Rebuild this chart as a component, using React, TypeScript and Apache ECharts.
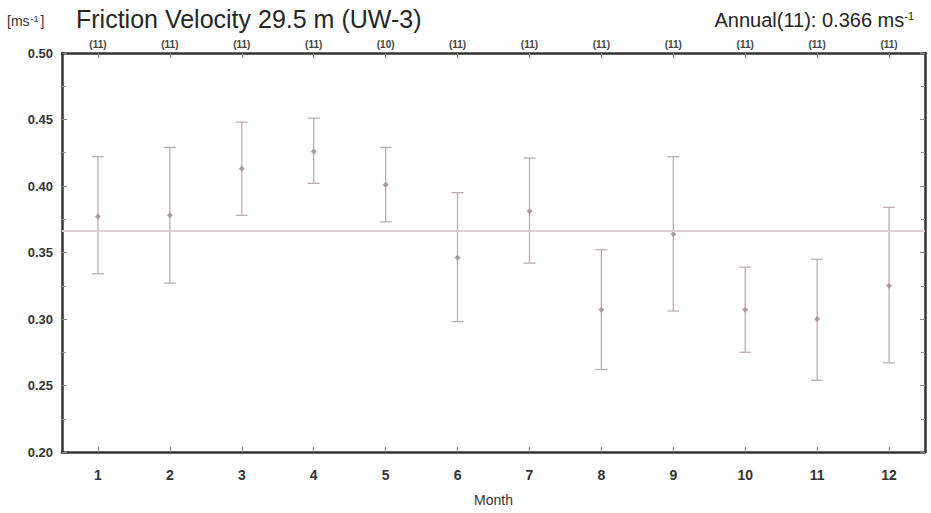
import React, { useEffect, useRef } from "react";
import * as echarts from "echarts";

const months = ["1", "2", "3", "4", "5", "6", "7", "8", "9", "10", "11", "12"];
const counts = ["(11)", "(11)", "(11)", "(11)", "(10)", "(11)", "(11)", "(11)", "(11)", "(11)", "(11)", "(11)"];
const means = [0.377, 0.378, 0.413, 0.426, 0.401, 0.346, 0.381, 0.307, 0.364, 0.307, 0.300, 0.325];
const upper = [0.422, 0.429, 0.448, 0.451, 0.429, 0.395, 0.421, 0.352, 0.422, 0.339, 0.345, 0.384];
const lower = [0.334, 0.327, 0.378, 0.402, 0.373, 0.298, 0.342, 0.262, 0.306, 0.275, 0.254, 0.267];
const annual = 0.366;

export default function App() {
  const ref = useRef<HTMLDivElement>(null);
  useEffect(() => {
    if (!ref.current) return;
    const chart = echarts.init(ref.current, null, { renderer: "svg" });
    const axisColor = "#333333";
    const barColor = "#b8a8a8";
    const font = "'Liberation Sans', Arial, sans-serif";
    chart.setOption({
      animation: false,
      backgroundColor: "#ffffff",
      textStyle: { fontFamily: font },
      grid: { left: 62, right: 6, top: 53, bottom: 61, containLabel: false, outerBoundsMode: "none" },
      graphic: [
        {
          type: "text",
          x: 7,
          y: 21,
          style: {
            text: "{n|[ms}{s|-1}{n|]}",
            textVerticalAlign: "middle",
            fontFamily: font,
            rich: {
              n: { fontSize: 14, fill: "#333", fontFamily: font },
              s: { fontSize: 9, fill: "#333", fontFamily: font, verticalAlign: "top", padding: [0, 2, 0, 1] },
            },
          },
        },
        {
          type: "text",
          x: 76,
          y: 19,
          style: {
            text: "Friction Velocity 29.5 m (UW-3)",
            fontSize: 25,
            fill: "#262626",
            fontFamily: font,
            textVerticalAlign: "middle",
          },
        },
        {
          type: "text",
          x: 914,
          y: 20,
          style: {
            text: "{n|Annual(11): 0.366 ms}{s|-1}",
            textAlign: "right",
            textVerticalAlign: "middle",
            fontFamily: font,
            rich: {
              n: { fontSize: 20, fill: "#262626", fontFamily: font },
              s: { fontSize: 11, fill: "#262626", fontFamily: font, verticalAlign: "top" },
            },
          },
        },
      ],
      xAxis: [
        {
          type: "category",
          data: months,
          position: "bottom",
          name: "Month",
          nameLocation: "middle",
          nameGap: 41,
          nameTextStyle: { fontSize: 14, color: "#333", fontFamily: font },
          axisLine: { show: true, lineStyle: { color: axisColor, width: 2.5 } },
          axisTick: { show: true, inside: true, alignWithLabel: true, length: 5, lineStyle: { color: "#888" } },
          axisLabel: { fontSize: 14, fontWeight: "bold", color: "#333", margin: 16 },
          splitLine: { show: false },
        },
        {
          type: "category",
          data: counts,
          position: "top",
          axisLine: { show: true, lineStyle: { color: axisColor, width: 2.5 } },
          axisTick: { show: true, inside: true, alignWithLabel: true, length: 5, lineStyle: { color: "#888" } },
          axisLabel: { fontSize: 10, fontWeight: "bold", color: "#444", margin: 4 },
          splitLine: { show: false },
        },
      ],
      yAxis: [
        {
          type: "value",
          min: 0.2,
          max: 0.5,
          interval: 0.05,
          position: "left",
          axisLine: { show: true, lineStyle: { color: axisColor, width: 2.5 } },
          axisTick: { show: true, inside: true, length: 5, lineStyle: { color: "#888" } },
          minorTick: { show: true, splitNumber: 2, length: 4, lineStyle: { color: "#999" } },
          axisLabel: {
            fontSize: 13,
            fontWeight: "bold",
            color: "#333",
            margin: 9,
            formatter: (v: number) => v.toFixed(2),
          },
          splitLine: { show: false },
        },
        {
          type: "value",
          min: 0.2,
          max: 0.5,
          interval: 0.05,
          position: "right",
          axisLine: { show: true, lineStyle: { color: axisColor, width: 2.5 } },
          axisTick: { show: true, inside: true, length: 5, lineStyle: { color: "#888" } },
          minorTick: { show: true, splitNumber: 2, length: 4, lineStyle: { color: "#999" } },
          axisLabel: { show: false },
          splitLine: { show: false },
        },
      ],
      series: [
        {
          type: "custom",
          data: months.map((_, i) => [i, lower[i], upper[i]]),
          renderItem: (params: any, api: any) => {
            const x = api.value(0);
            const lo = api.coord([x, api.value(1)]);
            const hi = api.coord([x, api.value(2)]);
            const hw = 6;
            const style = { stroke: barColor, lineWidth: 1.2 };
            return {
              type: "group",
              children: [
                { type: "line", shape: { x1: lo[0], y1: lo[1], x2: hi[0], y2: hi[1] }, style },
                { type: "line", shape: { x1: hi[0] - hw, y1: hi[1], x2: hi[0] + hw, y2: hi[1] }, style },
                { type: "line", shape: { x1: lo[0] - hw, y1: lo[1], x2: lo[0] + hw, y2: lo[1] }, style },
              ],
            };
          },
          z: 3,
        },
        {
          type: "scatter",
          data: means,
          symbol: "diamond",
          symbolSize: 6,
          itemStyle: { color: "#a08888" },
          z: 4,
          markLine: {
            silent: true,
            symbol: "none",
            precision: 4,
            label: { show: false },
            lineStyle: { color: "#dcd0d0", width: 2, type: "solid" },
            data: [{ yAxis: annual }],
          },
        },
      ],
    });
    return () => chart.dispose();
  }, []);
  return <div ref={ref} style={{ position: "absolute", left: 0, top: 0, width: 931, height: 513 }} />;
}
